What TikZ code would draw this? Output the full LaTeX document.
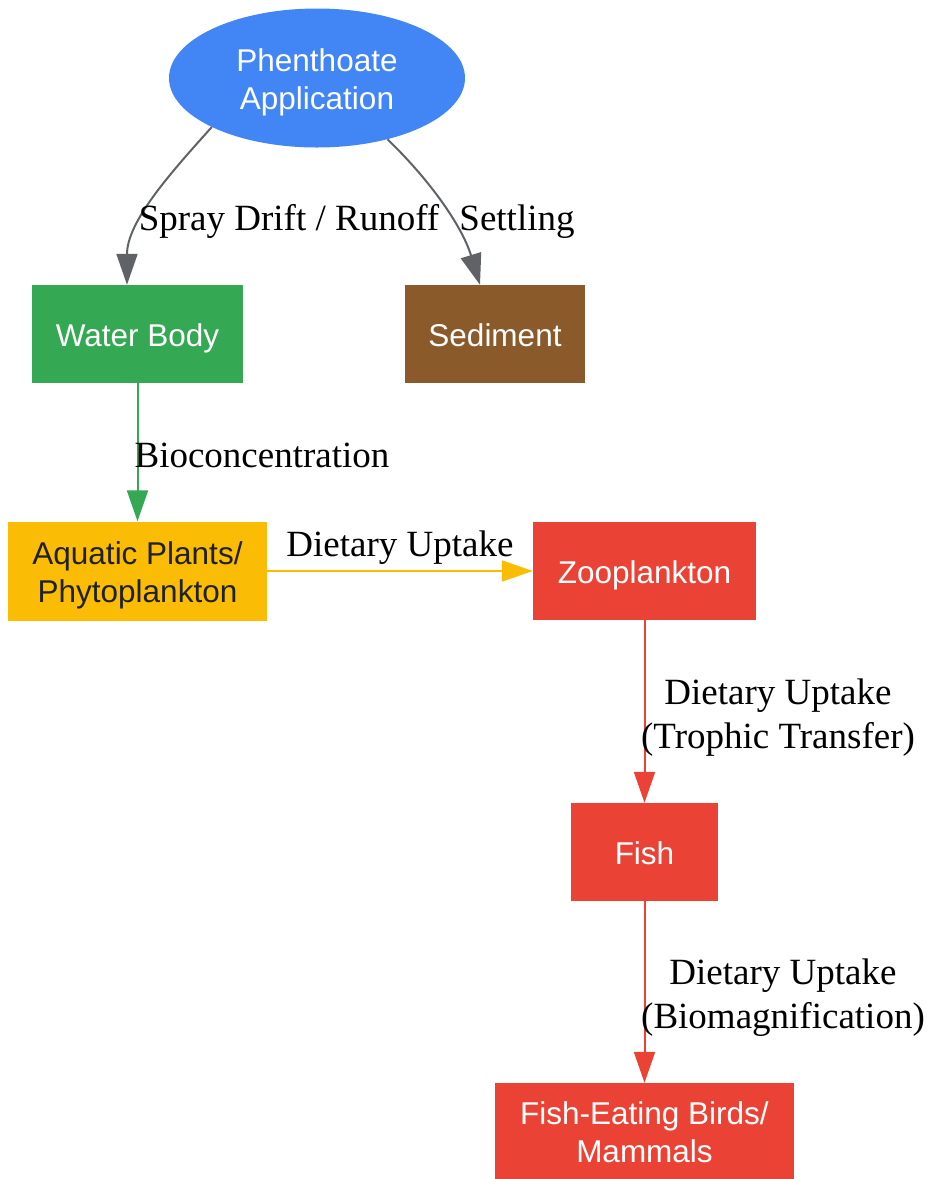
\documentclass[tikz,border=0pt]{standalone}
\usepackage{fontspec}
\setmainfont{Liberation Serif}
\newfontfamily\boxfont{Liberation Sans}
\usetikzlibrary{arrows.meta,shapes.geometric}

\definecolor{appblue}{HTML}{4285F4}
\definecolor{watergreen}{HTML}{34A853}
\definecolor{sedbrown}{HTML}{8B5A2B}
\definecolor{plantyellow}{HTML}{FBBC05}
\definecolor{chainred}{HTML}{EA4335}
\definecolor{edgegray}{HTML}{5F6368}
\definecolor{darktext}{HTML}{202124}

\newcommand{\topstrut}{\rule{0pt}{31pt}}

\begin{document}
\begin{tikzpicture}[x=1pt,y=-1pt,
	box/.style={rectangle,inner sep=0pt,text=white,align=center,
		font=\boxfont\fontsize{31.5}{38}\selectfont,
		execute at begin node={\rule{0pt}{31pt}},
		execute at end node={\rule[-7pt]{0pt}{0pt}}},
	lbl/.style={inner sep=0pt,align=center,font=\fontsize{37}{44}\selectfont,
		execute at begin node={\rule{0pt}{33pt}},
		execute at end node={\rule[-9pt]{0pt}{0pt}}},
	flow/.style={line width=2pt,-{Triangle[length=31pt,width=21pt]}}]

\useasboundingbox (0,0) rectangle (927,1179);

\node[box,ellipse,fill=appblue,minimum width=296,minimum height=139] (app) at (317,78) {\topstrut Phenthoate\\Application};

\node[box,fill=watergreen,minimum width=211,minimum height=98] (water) at (137.5,334) {Water Body};
\node[box,fill=sedbrown,minimum width=180,minimum height=98] (sed) at (495,334) {Sediment};
\node[box,fill=plantyellow,text=darktext,minimum width=259,minimum height=99] (plants) at (137.5,571) {\topstrut Aquatic Plants/\\Phytoplankton};
\node[box,fill=chainred,minimum width=223,minimum height=98] (zoo) at (644.5,571) {Zooplankton};
\node[box,fill=chainred,minimum width=147,minimum height=98] (fish) at (644.5,852) {Fish};
\node[box,fill=chainred,minimum width=299,minimum height=96] (birds) at (644.5,1131) {\topstrut Fish-Eating Birds/\\Mammals};

\draw[flow,color=edgegray] (app.205) to[out=228,in=90,looseness=0.9] ([xshift=-10.5pt]water.north);
\draw[flow,color=edgegray] (app.319) to[out=316,in=107,looseness=0.9] ([xshift=-15pt]sed.north);
\draw[flow,color=watergreen] (water.south) -- (plants.north);
\draw[flow,color=plantyellow] (plants.east) -- (zoo.west);
\draw[flow,color=chainred] (zoo.south) -- (fish.north);
\draw[flow,color=chainred] (fish.south) -- (birds.north);

\node[lbl] (lspray) at (289,218) {Spray Drift / Runoff};
\node[lbl] (lsettle) at (517,218) {Settling};
\node[lbl] (lbio) at (262,455) {Bioconcentration};
\node[lbl] (ldiet) at (400,544) {Dietary Uptake};
\node[lbl] (ltroph) at (778,718) {Dietary Uptake\\(Trophic Transfer)};
\node[lbl] (lmagn) at (783,998) {Dietary Uptake\\(Biomagnification)};

\end{tikzpicture}
\end{document}
